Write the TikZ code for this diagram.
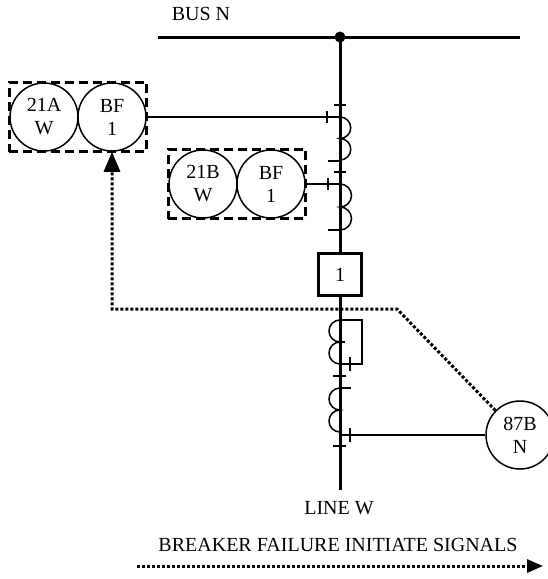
\documentclass[tikz,border=0pt]{standalone}
\usepackage{fontspec}
\setmainfont{Liberation Serif}
\usetikzlibrary{arrows.meta,fit}
\begin{document}
\begin{tikzpicture}[x=1pt,y=-1pt,
  every node/.style={font=\fontsize{20}{23}\selectfont},
  relay/.style={draw, circle, line width=1.5pt, minimum size=68pt, inner sep=0pt, align=center},
  dashbox/.style={draw, line width=3pt, dash pattern=on 9pt off 5pt, inner sep=0pt},
  bus/.style={line width=3pt},
  wire/.style={line width=1.5pt},
  tick/.style={line width=2pt},
  coil/.style={line width=1.5pt},
  sig/.style={line width=3pt, dash pattern=on 3pt off 2pt},
]
\useasboundingbox (0,0) rectangle (548,579);

% relays
\node[relay] (r21a) at (44,117) {21A\\W};
\node[relay] (bf1a) at (112,117) {BF\\1};
\node[dashbox, fit=(r21a)(bf1a)] (boxa) {};
\node[relay] (r21b) at (203,184) {21B\\W};
\node[relay] (bf1b) at (271,184) {BF\\1};
\node[dashbox, fit=(r21b)(bf1b)] (boxb) {};
\node[relay] (r87b) at (520,435) {87B\\N};

% bus and main line
\node[circle, fill, minimum size=11pt, inner sep=0pt] (dot) at (340,37) {};
\coordinate (busL) at (158,37);
\coordinate (busR) at (520,37);
\draw[bus] (busL) -- (busR);
\node[draw, line width=3pt, minimum width=43pt, minimum height=42pt] (brk) at (340,274.5) {1};
\coordinate (lineend) at (340,490);
\draw[bus] (dot.center) -- (brk.north);
\draw[bus] (brk.south) -- (lineend);

% upper CT 1
\coordinate (ct1top) at (340,117);
\draw[wire] (bf1a.east) -- (ct1top);
\draw[tick] (327,111) -- (327,123);
\draw[coil] (ct1top) arc[start angle=-90,end angle=90,radius=10.75]
                     arc[start angle=-90,end angle=90,radius=10.75];
\draw[tick] (334,105) -- (346,105);
\draw[tick] (328,160.5) -- (340,160.5);
\draw[tick] (334,172) -- (346,172);

% upper CT 2
\coordinate (ct2top) at (340,184);
\draw[wire] (bf1b.east) -- (ct2top);
\draw[tick] (328,178) -- (328,190);
\draw[coil] (ct2top) arc[start angle=-90,end angle=90,radius=11.5]
                     arc[start angle=-90,end angle=90,radius=11.5];
\draw[tick] (328,230) -- (340,230);

% lower CT 1
\coordinate (ct3top) at (340,320);
\draw[coil] (ct3top) arc[start angle=-90,end angle=-270,radius=11]
                     arc[start angle=-90,end angle=-270,radius=11];
\draw[wire] (ct3top) -- (362,320) -- (362,364) -- (340,364);
\draw[tick] (350,357) -- (350,371);
\draw[tick] (336,342) -- (345,342);
\draw[tick] (333,376) -- (346,376);

% lower CT 2
\coordinate (ct4top) at (340,388);
\draw[tick] (340,388) -- (351,388);
\draw[coil] (ct4top) arc[start angle=-90,end angle=-270,radius=11]
                     arc[start angle=-90,end angle=-270,radius=11];
\draw[tick] (335,410) -- (341,410);
\coordinate (ct4out) at (340,435);
\draw[wire] (ct4out) -- (r87b.west);
\draw[tick] (350,428) -- (350,442);
\draw[tick] (333,446) -- (346,446);

% breaker failure initiate signal
\coordinate (sigA) at (397,309);
\coordinate (sigB) at (112,309);
\draw[sig, -{Triangle[length=20pt,width=16pt]}] (r87b.north west) -- (sigA) -- (sigB) -- (bf1a.south);

% labels
\node (busn) at (201,14) {BUS N};
\node (linew) at (339,508) {LINE W};
\node (legend) at (338,545) {BREAKER FAILURE INITIATE SIGNALS};
\coordinate (lgL) at (137,566);
\coordinate (lgR) at (543,566);
\draw[sig, -{Triangle[length=16pt,width=13pt]}] (lgL) -- (lgR);
\end{tikzpicture}
\end{document}
